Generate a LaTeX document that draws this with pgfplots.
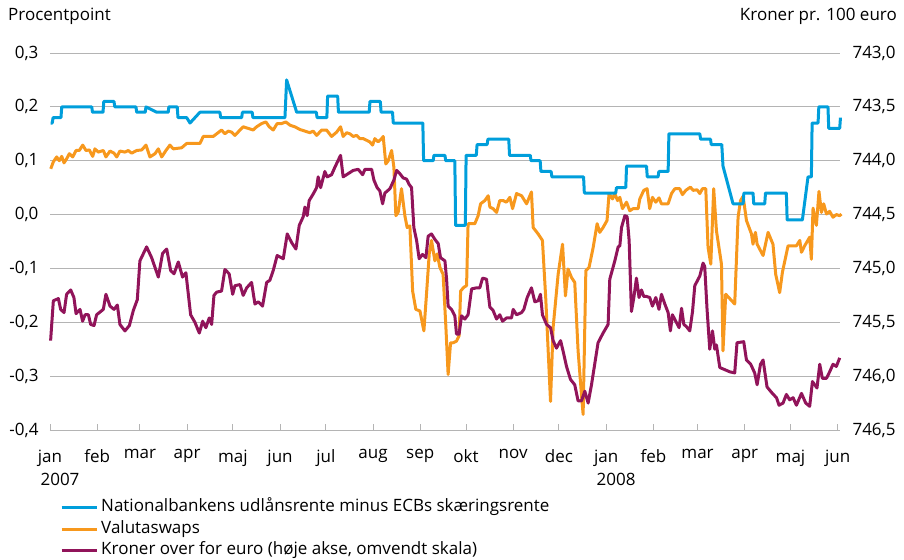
\documentclass[border=0pt]{standalone}
\usepackage{fontspec}
\setmainfont{Open Sans}
\usepackage{pgfplots}
\pgfplotsset{compat=1.18}
\usepackage{pgfplotstable}
\definecolor{nbblue}{RGB}{0,158,219}
\definecolor{nborange}{RGB}{247,152,29}
\definecolor{nbpurple}{RGB}{145,20,90}
\definecolor{gridgray}{RGB}{180,180,180}

% day (0 = 1 Jan 2007), percentage points
\pgfplotstableread{
x y
0.4 0.17
1.5 0.17
2 0.18
7.2 0.18
7.7 0.20
27.4 0.20
27.9 0.19
34.8 0.19
35.3 0.21
42 0.21
42.5 0.20
56.4 0.20
56.9 0.19
62.5 0.19
63 0.20
70 0.19
77.6 0.19
78 0.20
83.5 0.20
84 0.18
89.7 0.18
91.9 0.17
98.4 0.19
111.5 0.19
112 0.18
125.8 0.18
126.3 0.19
132.7 0.19
133.2 0.18
154.2 0.18
155.3 0.25
161.9 0.19
174.8 0.19
175.3 0.18
181.7 0.18
182.2 0.22
188.8 0.22
189.3 0.19
209.5 0.19
210 0.21
216.8 0.21
217.3 0.19
224.8 0.19
225.3 0.17
244.7 0.17
245.2 0.10
251.5 0.10
252 0.11
259.2 0.11
259.7 0.10
265.7 0.10
266.2 -0.02
272.6 -0.02
273.1 0.11
279.8 0.11
280.3 0.13
286.9 0.13
287.4 0.14
301.1 0.14
301.6 0.11
315.2 0.11
315.7 0.10
321.7 0.10
322.2 0.08
328.9 0.08
329.4 0.07
350.2 0.07
350.7 0.04
371.3 0.04
371.8 0.05
377.9 0.05
378.4 0.09
391.5 0.09
392 0.07
399.1 0.07
399.6 0.08
405.7 0.08
406.2 0.15
426.5 0.15
427 0.14
433.5 0.14
434 0.13
440.9 0.13
441.7 0.09
448.3 0.02
454.9 0.02
455.4 0.04
461.4 0.04
461.9 0.02
469.1 0.02
469.6 0.04
483.3 0.04
483.8 -0.01
493.8 -0.01
497.5 0.07
499.7 0.07
500.2 0.17
504.1 0.17
504.6 0.20
510.6 0.20
511.1 0.16
518.3 0.16
518.8 0.18
}\blueT

\pgfplotstableread{
x y
0.5 0.085
2.2 0.098
4.4 0.107
6.1 0.100
7.7 0.108
9.2 0.096
11.0 0.104
12.7 0.113
14.9 0.107
17.1 0.119
19.2 0.119
21.5 0.129
23.6 0.119
25.8 0.120
28.0 0.108
29.5 0.122
31.7 0.116
35.0 0.119
36.7 0.107
39.4 0.118
42.0 0.114
43.8 0.107
45.9 0.118
49.2 0.116
51.4 0.119
53.6 0.114
56.9 0.119
60.2 0.120
63.0 0.129
65.6 0.107
68.9 0.113
71.1 0.122
73.3 0.107
76.1 0.119
78.7 0.129
80.9 0.122
86.4 0.124
89.7 0.132
93.0 0.132
98.4 0.132
100.6 0.145
107.1 0.145
109.4 0.150
112.6 0.157
114.8 0.150
117.0 0.155
119.2 0.153
121.4 0.147
124.7 0.157
126.8 0.163
130.1 0.160
133.4 0.157
135.6 0.163
138.9 0.169
141.7 0.172
143.9 0.163
146.5 0.157
149.1 0.169
152.0 0.169
154.8 0.172
157.5 0.166
160.7 0.163
164.0 0.158
167.3 0.155
170.6 0.152
172.7 0.155
175.0 0.147
178.3 0.157
181.5 0.157
184.8 0.145
188.1 0.153
190.7 0.163
192.4 0.145
194.7 0.152
196.8 0.150
199.0 0.145
201.2 0.147
203.4 0.141
205.6 0.141
207.8 0.138
209.9 0.135
211.7 0.129
213.2 0.141
215.4 0.135
217.6 0.141
218.7 0.145
220.4 0.094
222.0 0.100
224.2 0.119
225.7 0.088
227.0 -0.002
228.5 0.004
230.7 0.048
232.9 -0.002
234.4 -0.024
236.2 -0.021
238.0 -0.142
240.1 -0.176
242.8 -0.179
245.4 -0.216
247.1 -0.148
248.9 -0.073
250.4 -0.048
252.6 -0.086
254.1 -0.073
255.9 -0.098
258.0 -0.111
259.8 -0.207
261.3 -0.297
262.9 -0.238
264.6 -0.238
266.8 -0.235
268.5 -0.225
269.5 -0.142
271.6 -0.135
273.4 -0.132
274.4 -0.017
276.7 -0.017
278.8 -0.017
281.0 -0.002
282.6 0.020
285.4 0.026
287.6 0.035
288.7 0.014
290.8 0.011
293.1 0.004
295.2 0.026
297.4 0.026
299.6 0.023
301.8 0.032
303.6 0.011
306.2 0.039
309.5 0.035
312.8 0.020
316.0 0.042
317.1 -0.024
320.4 -0.036
323.2 -0.048
325.4 -0.157
328.5 -0.347
330.2 -0.210
333.5 -0.111
336.4 -0.055
338.3 -0.151
340.0 -0.101
342.3 -0.117
344.4 -0.126
346.6 -0.253
348.8 -0.334
349.9 -0.371
351.7 -0.104
353.8 -0.098
356.5 -0.061
359.1 -0.017
360.8 -0.033
363.0 -0.024
365.6 -0.011
366.9 0.039
369.2 0.029
370.7 0.039
372.5 0.026
374.0 0.032
375.7 0.011
378.4 0.023
380.5 0.007
382.7 0.011
386.0 0.011
387.1 0.029
389.7 0.045
391.9 0.048
393.6 0.011
395.4 0.032
397.6 0.023
399.7 0.031
401.3 0.020
405.7 0.020
407.9 0.039
410.1 0.048
413.3 0.048
415.1 0.037
417.3 0.045
420.3 0.051
422.1 0.045
424.7 0.046
426.5 0.039
428.2 0.048
430.4 0.048
431.9 -0.061
433.7 -0.092
435.6 0.048
437.4 -0.030
440.7 -0.092
441.7 -0.253
443.5 -0.148
449.4 -0.166
451.6 -0.005
453.2 0.026
454.9 0.034
457.1 -0.011
460.4 -0.036
461.4 -0.055
463.0 -0.033
464.1 -0.055
468.0 -0.076
471.3 -0.033
474.5 -0.055
476.3 -0.111
478.9 -0.145
480.7 -0.107
484.4 -0.058
489.9 -0.058
492.1 -0.048
493.2 -0.070
495.3 -0.058
498.6 -0.042
499.7 -0.083
500.8 0.012
503.0 -0.020
504.7 0.043
506.3 0.004
507.8 0.020
509.6 0.001
511.7 0.006
513.9 -0.005
516.1 0.000
518.3 -0.002
519.4 0.001
}\orangeT

% kroner per 100 euro (right axis, reversed)
\pgfplotstableread{
x y
0.4 745.67
2.2 745.30
5.5 745.28
7.0 745.38
9.2 745.41
10.9 745.24
13.6 745.20
15.7 745.27
17.1 745.42
19.7 745.38
21.4 745.49
23.0 745.43
25.2 745.43
26.7 745.52
28.9 745.53
30.6 745.43
35.0 745.38
36.7 745.24
39.4 745.35
42.0 745.38
44.2 745.34
45.9 745.52
49.2 745.58
52.1 745.53
54.7 745.39
57.3 745.29
59.0 744.93
63.4 744.80
66.7 744.90
71.1 745.08
73.9 744.86
76.6 744.82
79.2 745.02
81.4 745.05
84.2 744.94
87.0 745.08
89.2 745.04
92.3 745.43
95.1 745.50
98.0 745.60
100.2 745.49
102.3 745.55
104.5 745.46
106.1 745.52
107.6 745.25
109.4 745.22
112.6 745.21
114.8 745.01
117.6 745.05
119.9 745.24
121.4 745.16
124.7 745.15
126.8 745.25
129.1 745.18
132.3 745.13
134.5 745.33
136.7 745.31
139.5 745.35
142.2 745.13
144.3 745.11
146.5 745.02
149.1 744.88
153.1 744.91
155.7 744.68
158.6 744.76
161.4 744.82
163.6 744.60
166.2 744.52
167.3 744.43
168.8 744.51
170.1 744.37
172.7 744.31
175.0 744.25
176.0 744.15
177.6 744.25
180.4 744.10
181.9 744.15
184.8 744.13
187.0 744.06
190.7 743.95
192.4 744.15
195.7 744.12
199.0 744.09
202.3 744.08
205.2 744.13
206.7 744.08
211.1 744.08
212.6 744.18
214.7 744.25
216.5 744.28
218.3 744.40
219.8 744.30
223.1 744.26
225.7 744.18
227.5 744.09
229.6 744.12
231.8 744.16
234.0 744.17
235.7 744.22
237.3 744.25
238.8 744.62
240.6 744.74
242.3 744.91
244.5 744.87
246.7 744.90
248.2 744.70
250.4 744.68
252.6 744.73
254.8 744.77
256.3 744.90
259.2 744.93
260.3 745.10
261.3 745.35
263.5 745.38
265.7 745.44
266.8 745.61
268.5 745.61
270.1 745.44
272.3 745.47
274.4 745.43
276.7 745.19
280.0 745.18
282.1 745.18
283.9 745.09
286.5 745.10
288.7 745.36
290.8 745.39
293.1 745.47
295.2 745.43
297.0 745.49
299.6 745.46
302.9 745.46
304.0 745.38
306.2 745.43
309.5 745.41
311.0 745.38
313.2 745.27
316.0 745.18
318.2 745.31
320.4 745.30
321.9 745.24
323.2 745.43
325.9 745.52
328.5 745.55
330.2 745.67
332.4 745.74
335.1 745.67
336.8 745.77
339.0 745.91
341.6 746.03
344.4 746.08
346.6 746.23
348.8 746.23
351.0 746.14
353.2 746.25
355.4 746.08
359.7 745.69
363.0 745.60
366.3 745.52
367.4 745.10
370.7 744.93
372.9 744.80
374.0 744.79
375.1 744.62
377.3 744.51
378.8 744.52
380.1 744.74
381.6 745.40
383.2 745.27
384.9 745.09
386.6 745.27
388.2 745.20
389.7 745.26
391.5 745.26
393.6 745.27
395.4 745.35
397.6 745.27
399.7 745.38
401.3 745.24
403.5 745.33
405.7 745.41
407.2 745.58
408.5 745.43
410.7 745.49
412.9 745.55
414.5 745.37
416.0 745.52
417.7 745.54
419.9 745.58
421.7 745.40
423.2 745.16
426.5 745.07
428.6 744.95
429.7 744.98
431.2 745.37
433.0 745.75
434.8 745.58
436.3 745.75
437.4 745.71
439.6 745.92
442.9 745.94
446.2 745.96
449.4 745.97
450.9 745.69
455.3 745.68
457.1 745.85
459.9 745.89
462.5 745.97
464.1 746.08
466.3 745.89
468.0 745.85
470.6 746.10
474.1 746.16
476.8 746.20
478.5 746.27
481.1 746.25
483.3 746.17
485.5 746.22
487.7 746.20
489.9 746.27
493.2 746.16
496.0 746.25
498.6 746.28
500.4 746.05
501.9 746.08
503.4 746.11
505.2 745.89
506.9 746.02
509.6 746.02
511.7 745.96
513.9 745.89
516.1 745.91
518.3 745.83
}\purpleT

\begin{document}
\begin{tikzpicture}[font=\fontsize{17}{20}\selectfont]
\useasboundingbox (-50pt,-129pt) rectangle (854pt,430pt);
\begin{axis}[
  at={(0pt,0pt)}, anchor=south west,
  scale only axis, width=790pt, height=377pt,
  xmin=0, xmax=518.5, ymin=-0.4, ymax=0.3,
  clip=false,
  axis x line*=bottom, axis y line*=left,
  y axis line style={draw=none},
  x axis line style={gridgray, line width=0.9pt, -},
  xtick={0,31,59,90,120,151,181,212,243,273,304,334,365,396,425,456,486,517},
  xticklabels={{jan\\\hspace*{20pt}2007},feb,mar,apr,maj,jun,jul,aug,sep,okt,nov,dec,{jan\\\hspace*{20pt}2008},feb,mar,apr,maj,jun},
  xticklabel style={align=center, font=\fontsize{17}{23}\selectfont, yshift=-16pt},
  x tick style={gridgray, line width=0.9pt},
  major tick length=6pt, tick align=inside,
  ytick={-0.4,-0.3,-0.2,-0.1,0,0.1,0.2,0.3},
  y tick style={draw=none},
  ymajorgrids, grid style={gridgray, line width=0.9pt},
  yticklabel style={/pgf/number format/.cd, use comma, fixed, fixed zerofill, precision=1, assume math mode=true, /tikz/.cd, anchor=east, xshift=-8pt},
  legend style={at={(axis description cs:0.0127,-0.185)}, anchor=north west, draw=none, fill=none,
    inner sep=0pt, row sep=5.5pt, font=\fontsize{17}{20}\selectfont,
    nodes={inner sep=0pt, text height=12pt, text depth=4pt},
    /tikz/every odd column/.append style={column sep=3pt}},
  legend cell align=left,
  legend image code/.code={\draw[#1, line width=3pt] (0pt,0pt) -- (35pt,0pt);},
]
\addplot[nborange, line width=3pt, line join=round, forget plot] table {\orangeT};
\addplot[nbblue, line width=3pt, line join=round, forget plot] table {\blueT};
\addlegendimage{nbblue}
\addlegendentry{Nationalbankens udlånsrente minus ECBs skæringsrente}
\addlegendimage{nborange}
\addlegendentry{Valutaswaps}
\addlegendimage{nbpurple}
\addlegendentry{Kroner over for euro (høje akse, omvendt skala)}
\end{axis}
\begin{axis}[
  at={(0pt,0pt)}, anchor=south west,
  scale only axis, width=790pt, height=377pt,
  xmin=0, xmax=518.5, ymin=743, ymax=746.5, y dir=reverse,
  clip=false,
  axis x line=none, axis y line*=right,
  y axis line style={draw=none},
  ytick={743,743.5,744,744.5,745,745.5,746,746.5},
  y tick style={draw=none},
  yticklabel style={/pgf/number format/.cd, use comma, fixed, fixed zerofill, precision=1, 1000 sep={}, assume math mode=true, /tikz/.cd, anchor=west, xshift=9pt},
]
\addplot[nbpurple, line width=3pt, line join=round] table {\purpleT};
\end{axis}
\node[anchor=west, inner sep=0pt] at (-42pt,414pt) {Procentpoint};
\node[anchor=east, inner sep=0pt] at (847pt,414pt) {Kroner pr. 100 euro};
\end{tikzpicture}
\end{document}
